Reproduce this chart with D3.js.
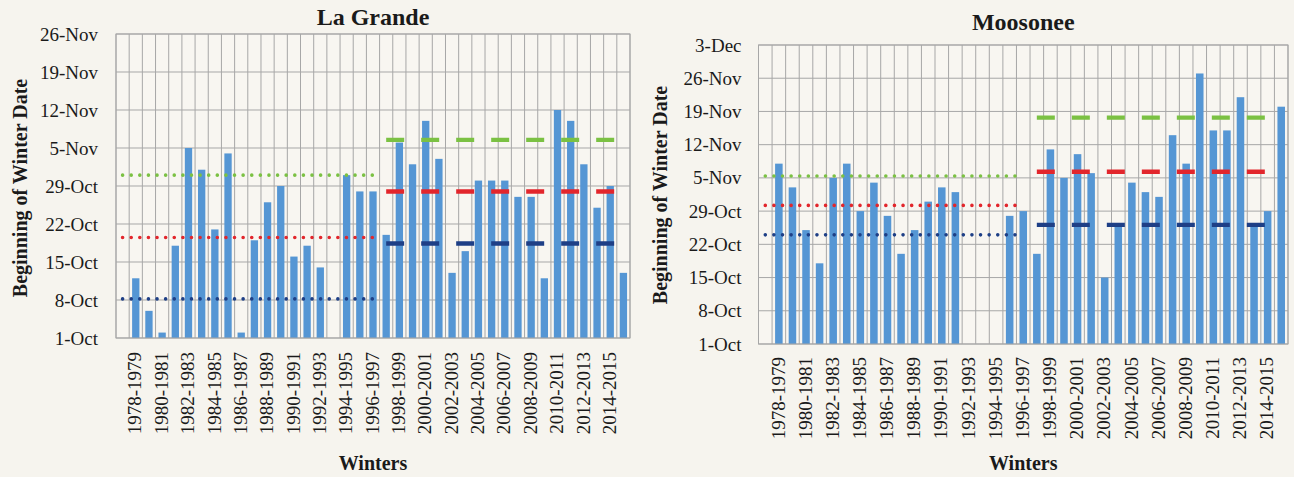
<!DOCTYPE html>
<html>
<head>
<meta charset="utf-8">
<script src="https://cdn.jsdelivr.net/npm/d3@7"></script>
<style>
  body { margin: 0; background: #f6f4ee; }
  svg { display: block; }
  text { font-family: "Liberation Serif", "Times New Roman", serif; fill: #1a1a1a; }
</style>
</head>
<body>
<svg id="chart" width="1294" height="477"></svg>
<script>
// Winters on the category axis (the first slot has no observation)
const winters = [
  "1977-1978", "1978-1979", "1979-1980", "1980-1981", "1981-1982", "1982-1983",
  "1983-1984", "1984-1985", "1985-1986", "1986-1987", "1987-1988", "1988-1989",
  "1989-1990", "1990-1991", "1991-1992", "1992-1993", "1993-1994", "1994-1995",
  "1995-1996", "1996-1997", "1997-1998", "1998-1999", "1999-2000", "2000-2001",
  "2001-2002", "2002-2003", "2003-2004", "2004-2005", "2005-2006", "2006-2007",
  "2007-2008", "2008-2009", "2009-2010", "2010-2011", "2011-2012", "2012-2013",
  "2013-2014", "2014-2015", "2015-2016"
];

// Labelled winters (every second one)
const winterTickLabels = [
  "1978-1979", "1980-1981", "1982-1983", "1984-1985", "1986-1987", "1988-1989",
  "1990-1991", "1992-1993", "1994-1995", "1996-1997", "1998-1999", "2000-2001",
  "2002-2003", "2004-2005", "2006-2007", "2008-2009", "2010-2011", "2012-2013",
  "2014-2015"
];

// Beginning-of-winter date per winter, La Grande
const laGrandeDates = [
  null, "12-Oct", "6-Oct", "2-Oct", "18-Oct", "5-Nov",
  "1-Nov", "21-Oct", "4-Nov", "2-Oct", "19-Oct", "26-Oct",
  "29-Oct", "16-Oct", "18-Oct", "14-Oct", null, "31-Oct",
  "28-Oct", "28-Oct", "20-Oct", "6-Nov", "2-Nov", "10-Nov",
  "3-Nov", "13-Oct", "17-Oct", "30-Oct", "30-Oct", "30-Oct",
  "27-Oct", "27-Oct", "12-Oct", "12-Nov", "10-Nov", "2-Nov",
  "25-Oct", "29-Oct", "13-Oct"
];

// Beginning-of-winter date per winter, Moosonee
const moosoneeDates = [
  null, "8-Nov", "3-Nov", "25-Oct", "18-Oct", "5-Nov",
  "8-Nov", "29-Oct", "4-Nov", "28-Oct", "20-Oct", "25-Oct",
  "31-Oct", "3-Nov", "2-Nov", null, null, null,
  "28-Oct", "29-Oct", "20-Oct", "11-Nov", "5-Nov", "10-Nov",
  "6-Nov", "15-Oct", "26-Oct", "4-Nov", "2-Nov", "1-Nov",
  "14-Nov", "8-Nov", "27-Nov", "15-Nov", "15-Nov", "22-Nov",
  "26-Oct", "29-Oct", "20-Nov"
];

// The two sub-periods (first and last winter of each)
const earlyPeriod = ["1977-1978", "1996-1997"];
const latePeriod = ["1997-1998", "2015-2016"];

// Period statistics: [mean + sd, mean, mean - sd]
const laGrandeEarlyLevels = ["31-Oct", "19.5-Oct", "8.2-Oct"];
const laGrandeLateLevels = ["6.5-Nov", "28-Oct", "18.4-Oct"];
const moosoneeEarlyLevels = ["5.4-Nov", "30.2-Oct", "24-Oct"];
const moosoneeLateLevels = ["17.7-Nov", "6.3-Nov", "26.1-Oct"];

// Date ticks on the value axes
const laGrandeDateTicks = ["1-Oct", "8-Oct", "15-Oct", "22-Oct", "29-Oct", "5-Nov", "12-Nov", "19-Nov", "26-Nov"];
const moosoneeDateTicks = ["1-Oct", "8-Oct", "15-Oct", "22-Oct", "29-Oct", "5-Nov", "12-Nov", "19-Nov", "26-Nov", "3-Dec"];

const monthNames = ["Jan", "Feb", "Mar", "Apr", "May", "Jun", "Jul", "Aug", "Sep", "Oct", "Nov", "Dec"];
// "19.5-Oct" -> UTC date (fractional days allowed for period statistics)
function parseDay(s) {
  const [d, m] = s.split("-");
  return new Date(Date.UTC(2000, monthNames.indexOf(m), 1) + (parseFloat(d) - 1) * 864e5);
}

const levelColors = ["#7bc143", "#e2262c", "#1e3f86"];
const barColor = "#5596d4";
const gridColor = "#a7a7a7";

const svg = d3.select("#chart");

function drawPanel(cfg) {
  const g = svg.append("g");
  const x = d3.scaleBand()
    .domain(winters)
    .range([cfg.left, cfg.right])
    .paddingInner(0.8 / 1.8)
    .paddingOuter(0.4 / 1.8);
  const step = x.step();
  const bw = x.bandwidth();
  const cx = w => x(w) + bw / 2;

  const y = d3.scaleUtc()
    .domain([parseDay(cfg.ticks[0]), parseDay(cfg.ticks[cfg.ticks.length - 1])])
    .range([cfg.bottom, cfg.top]);

  // plot area
  g.append("rect")
    .attr("x", cfg.left).attr("y", cfg.top)
    .attr("width", cfg.right - cfg.left).attr("height", cfg.bottom - cfg.top)
    .attr("fill", "#f8f6f1");

  // vertical gridlines at every category boundary
  const bounds = winters.map(w => cx(w) - step / 2).concat([cx(winters[winters.length - 1]) + step / 2]);
  g.append("g").selectAll("line").data(bounds).join("line")
    .attr("x1", d => d).attr("x2", d => d)
    .attr("y1", cfg.top).attr("y2", cfg.bottom)
    .attr("stroke", gridColor).attr("stroke-width", 1);

  // horizontal gridlines at each date tick
  g.append("g").selectAll("line").data(cfg.ticks).join("line")
    .attr("x1", cfg.left).attr("x2", cfg.right)
    .attr("y1", d => y(parseDay(d))).attr("y2", d => y(parseDay(d)))
    .attr("stroke", gridColor).attr("stroke-width", 1);

  // bars
  const rows = winters.map((w, i) => ({ w, v: cfg.values[i] })).filter(r => r.v !== null);
  g.append("g").selectAll("rect").data(rows).join("rect")
    .attr("x", r => x(r.w))
    .attr("width", bw)
    .attr("y", r => y(parseDay(r.v)))
    .attr("height", r => cfg.bottom - y(parseDay(r.v)))
    .attr("fill", barColor);

  // period statistics lines
  function levelLines(period, levels, dotted) {
    const lg = g.append("g");
    levels.forEach((lv, k) => {
      const line = lg.append("line")
        .attr("x1", cx(period[0])).attr("x2", cx(period[1]))
        .attr("y1", y(parseDay(lv))).attr("y2", y(parseDay(lv)))
        .attr("stroke", levelColors[k]);
      if (dotted) {
        line.attr("stroke-width", 3.6).attr("stroke-linecap", "round").attr("stroke-dasharray", "0.01 8.6");
      } else {
        line.attr("stroke-width", 4.4).attr("stroke-dasharray", "18 17");
      }
    });
  }
  levelLines(earlyPeriod, cfg.early, true);
  levelLines(latePeriod, cfg.late, false);

  // value axis
  const yAxis = d3.axisLeft(y)
    .tickValues(cfg.ticks.map(parseDay))
    .tickFormat((d, i) => cfg.ticks[i])
    .tickSize(0)
    .tickPadding(cfg.tickPad);
  const ya = g.append("g").attr("transform", `translate(${cfg.left},0)`).call(yAxis);
  ya.select(".domain").remove();
  ya.selectAll("text").style("font-size", "19px").attr("fill", "#1a1a1a");

  // category axis
  const xAxis = d3.axisBottom(x).tickValues(winterTickLabels).tickSize(0);
  const xa = g.append("g").attr("transform", `translate(0,${cfg.bottom})`).call(xAxis);
  xa.select(".domain").remove();
  xa.selectAll("text")
    .style("font-size", "19px")
    .attr("fill", "#1a1a1a")
    .attr("text-anchor", "end")
    .attr("transform", "rotate(-90)")
    .attr("x", -cfg.xLabelGap)
    .attr("y", 0)
    .attr("dy", "0.3em");

  // plot border
  g.append("rect")
    .attr("x", cfg.left).attr("y", cfg.top)
    .attr("width", cfg.right - cfg.left).attr("height", cfg.bottom - cfg.top)
    .attr("fill", "none").attr("stroke", gridColor).attr("stroke-width", 1);

  // titles
  g.append("text")
    .attr("x", (cfg.left + cfg.right) / 2).attr("y", cfg.titleY)
    .attr("text-anchor", "middle")
    .style("font-size", "24px").style("font-weight", "bold")
    .text(cfg.title);
  g.append("text")
    .attr("x", (cfg.left + cfg.right) / 2).attr("y", 470)
    .attr("text-anchor", "middle")
    .style("font-size", "20px").style("font-weight", "bold")
    .text("Winters");
  g.append("text")
    .attr("transform", `translate(${cfg.yTitleX},${cfg.yTitleY}) rotate(-90)`)
    .attr("text-anchor", "middle")
    .attr("dy", "0.35em")
    .style("font-size", "20px").style("font-weight", "bold")
    .text("Beginning of Winter Date");
}

drawPanel({
  title: "La Grande",
  values: laGrandeDates,
  early: laGrandeEarlyLevels,
  late: laGrandeLateLevels,
  ticks: laGrandeDateTicks,
  left: 116, right: 630, top: 34, bottom: 338,
  tickPad: 18, xLabelGap: 14,
  titleY: 25, yTitleX: 20, yTitleY: 188
});

drawPanel({
  title: "Moosonee",
  values: moosoneeDates,
  early: moosoneeEarlyLevels,
  late: moosoneeLateLevels,
  ticks: moosoneeDateTicks,
  left: 758.5, right: 1288, top: 45, bottom: 344,
  tickPad: 17, xLabelGap: 13,
  titleY: 30, yTitleX: 660, yTitleY: 195
});
</script>
</body>
</html>
